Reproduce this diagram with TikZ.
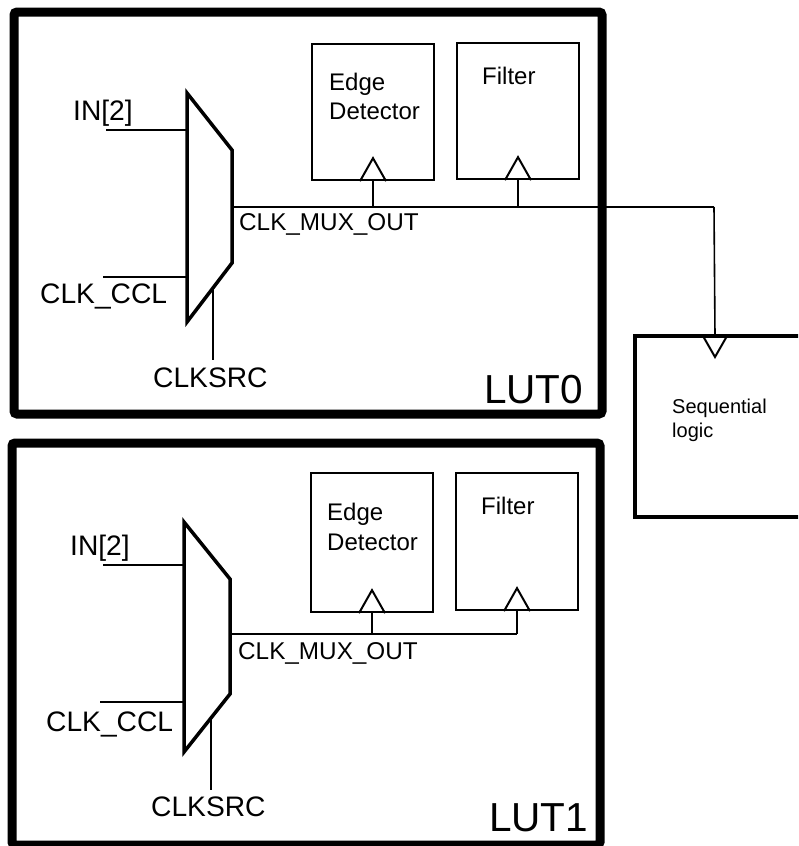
\documentclass[tikz,border=0pt]{standalone}
\usepackage{fontspec}
\setmainfont{Liberation Sans}
\begin{document}
\begin{tikzpicture}[x=1pt,y=-1pt,
  lut/.style={draw, line width=9pt, rounded corners=3pt, inner sep=0pt, minimum width=588pt, minimum height=402pt},
  blk/.style={draw, line width=2.3pt, inner sep=0pt, minimum width=122pt},
  muxs/.style={draw, line width=3.5pt, line join=miter},
  wire/.style={line width=1.2pt},
  stub/.style={line width=1.2pt},
  bus/.style={line width=2.8pt},
  clk/.style={line width=2pt, line join=miter},
  port/.style={anchor=base west, inner sep=0pt, font=\fontsize{28.2}{32}\selectfont},
  sig/.style={anchor=base west, inner sep=0pt, font=\fontsize{24.3}{28}\selectfont},
  btxt/.style={anchor=base west, inner sep=0pt, font=\fontsize{24}{28}\selectfont},
  luttxt/.style={anchor=base west, inner sep=0pt, font=\fontsize{40.5}{44}\selectfont},
  seqtxt/.style={anchor=base west, inner sep=0pt, font=\fontsize{20}{24}\selectfont}
]
\clip (0,0) rectangle (798,846);

% ---------------- LUT0 ----------------
\node[lut] (lut0) at (308,213) {};
\node[blk, minimum height=136pt] (ed0) at (373,112) {};
\node[blk, minimum height=136pt] (fl0) at (518,111) {};
\node[btxt] (ed0a) at (329,90) {Edge};
\node[btxt] (ed0b) at (329,119) {Detector};
\node[btxt] (fl0t) at (482,84) {Filter};
\node[luttxt] (lut0t) at (484,403) {LUT0};

\coordinate (m0a) at (187,93);
\coordinate (m0b) at (232,150);
\coordinate (m0c) at (232,263);
\coordinate (m0d) at (187,322);
\draw[muxs] (m0a) -- (m0b) -- (m0c) -- (m0d) -- cycle;

\coordinate (in0w) at (106,130);
\coordinate (ccl0w) at (103,277);
\coordinate (src0a) at (213,288);
\coordinate (src0b) at (213,360);
\draw[wire] (in0w) -- (in0w -| m0a);
\draw[wire] (ccl0w) -- (ccl0w -| m0a);
\draw[wire] (src0a) -- (src0b);
\node[port] (in0) at (73,120) {IN[2]};
\node[port] (ccl0) at (40,303) {CLK\_CCL};
\node[port] (src0) at (153,387) {CLKSRC};

\coordinate (mo0) at (232,207);
\coordinate (j0) at (714,207);
\node[sig] (mo0t) at (239,230) {CLK\_MUX\_OUT};

% clock triangles
\draw[clk] ([xshift=-13pt]ed0.south) -- ([yshift=23pt]ed0.south) -- ([xshift=13pt]ed0.south);
\draw[clk] ([xshift=-13pt]fl0.south) -- ([yshift=23pt]fl0.south) -- ([xshift=13pt]fl0.south);
\draw[stub] (ed0.south) -- (ed0.south |- mo0);
\draw[stub] (fl0.south) -- (fl0.south |- mo0);

% ---------------- Sequential logic ----------------
\node[draw, line width=3.5pt, inner sep=0pt, minimum width=185pt, minimum height=181pt] (seq) at (727.5,426.5) {};
\coordinate (seqclk) at (715,336);
\draw[clk] ([xshift=-12pt]seqclk) -- ([yshift=-21pt]seqclk) -- ([xshift=12pt]seqclk);
\node[seqtxt] (seqa) at (672,413) {Sequential};
\node[seqtxt] (seqb) at (672,437) {logic};

\draw[bus] (mo0) -- (j0);
\draw[stub, line width=1.6pt] (j0) -- (seqclk);

% ---------------- LUT1 ----------------
\node[lut] (lut1) at (306,644) {};
\node[blk, minimum height=139pt] (ed1) at (372,542.5) {};
\node[blk, minimum height=137pt] (fl1) at (517,541.5) {};
\node[btxt] (ed1a) at (327,520) {Edge};
\node[btxt] (ed1b) at (327,550) {Detector};
\node[btxt] (fl1t) at (481,514) {Filter};
\node[luttxt] (lut1t) at (489,831) {LUT1};

\coordinate (m1a) at (184,522);
\coordinate (m1b) at (230,579);
\coordinate (m1c) at (230,694);
\coordinate (m1d) at (184,752);
\draw[muxs] (m1a) -- (m1b) -- (m1c) -- (m1d) -- cycle;

\coordinate (in1w) at (103,565);
\coordinate (ccl1w) at (100,702);
\coordinate (src1a) at (211,718);
\coordinate (src1b) at (211,790);
\draw[wire] (in1w) -- (in1w -| m1a);
\draw[wire] (ccl1w) -- (ccl1w -| m1a);
\draw[wire] (src1a) -- (src1b);
\node[port] (in1) at (70,555) {IN[2]};
\node[port] (ccl1) at (46,731) {CLK\_CCL};
\node[port] (src1) at (151,816) {CLKSRC};

\coordinate (mo1) at (230,634);
\node[sig] (mo1t) at (238,659) {CLK\_MUX\_OUT};

\draw[clk] ([xshift=-13pt]ed1.south) -- ([yshift=23pt]ed1.south) -- ([xshift=13pt]ed1.south);
\draw[clk] ([xshift=-13pt]fl1.south) -- ([yshift=23pt]fl1.south) -- ([xshift=13pt]fl1.south);
\draw[stub] (ed1.south) -- (ed1.south |- mo1);
\draw[bus] (mo1) -- (mo1 -| fl1.south);
\draw[stub] (fl1.south) -- (fl1.south |- mo1);
\end{tikzpicture}
\end{document}
